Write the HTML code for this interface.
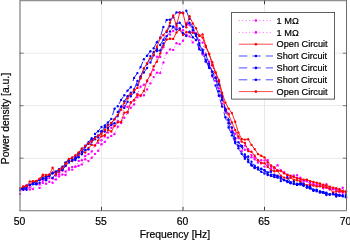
<!DOCTYPE html><html><head><meta charset="utf-8"><title>Power density</title><style>html,body{margin:0;padding:0;background:#fff}svg{display:block}text{font-family:"Liberation Sans",sans-serif;fill:#000;stroke:#000;stroke-width:0.2px}</style></head><body>
<svg width="350" height="240" viewBox="0 0 350 240">
<rect width="350" height="240" fill="#fff"/>
<path d="M101.5 0.5V210.5M183 0.5V210.5M264.5 0.5V210.5" stroke="#e9e9e9" stroke-width="1" fill="none"/>
<path d="M20 53.25H346M20 105.5H346M20 158.25H346" stroke="#e6e6e6" stroke-width="0.8" fill="none"/>
<defs><clipPath id="c"><rect x="19" y="0" width="329" height="211"/></clipPath></defs>
<g clip-path="url(#c)">
<polyline points="20.0,194.0 23.3,189.7 26.5,189.0 29.8,187.4 33.0,189.1 36.3,182.9 39.6,187.9 42.8,183.0 46.1,183.7 49.3,181.8 52.6,182.8 55.9,175.5 59.1,176.4 62.4,174.5 65.6,175.0 68.9,169.7 72.2,169.6 75.4,166.6 78.7,165.8 81.9,164.4 85.2,159.3 88.5,161.1 91.7,157.7 95.0,153.9 98.2,150.8 101.5,144.2 104.8,141.9 108.0,137.6 111.3,135.9 114.5,134.0 117.8,126.7 121.1,123.0 124.3,117.8 127.6,112.9 130.8,107.7 134.1,104.5 137.4,97.2 140.6,96.0 143.9,95.3 147.1,89.4 150.4,83.4 153.7,77.1 156.9,72.7 160.2,73.1 163.4,62.6 166.7,53.0 170.0,49.4 173.2,49.9 176.5,43.3 179.7,44.1 183.0,40.8 186.3,34.4 189.5,36.4 192.8,42.4 196.0,40.0 199.3,47.7 202.6,54.5 205.8,61.6 209.1,67.3 212.3,76.3 215.6,80.6 218.9,95.6 222.1,103.6 225.4,111.4 228.6,122.8 231.9,130.5 235.2,140.0 238.4,146.1 241.7,150.9 244.9,145.6 248.2,149.1 251.5,155.1 254.7,159.2 258.0,162.5 261.2,163.4 264.5,160.4 267.8,164.7 271.0,167.9 274.3,168.2 277.5,170.8 280.8,170.7 284.1,172.4 287.3,174.6 290.6,176.1 293.8,176.8 297.1,177.8 300.4,177.7 303.6,180.4 306.9,181.2 310.1,183.9 313.4,185.1 316.7,184.6 319.9,184.9 323.2,185.4 326.4,187.9 329.7,188.2 333.0,188.5 336.2,189.9 339.5,189.8 342.7,192.7 346.0,191.8" fill="none" stroke="#ff00ff" stroke-width="0.85" stroke-dasharray="0.9 2.55" stroke-linejoin="round"/>
<g fill="#ff00ff"><circle cx="20.0" cy="194.0" r="1.18"/><circle cx="23.3" cy="189.7" r="1.18"/><circle cx="26.5" cy="189.0" r="1.18"/><circle cx="29.8" cy="187.4" r="1.18"/><circle cx="33.0" cy="189.1" r="1.18"/><circle cx="36.3" cy="182.9" r="1.18"/><circle cx="39.6" cy="187.9" r="1.18"/><circle cx="42.8" cy="183.0" r="1.18"/><circle cx="46.1" cy="183.7" r="1.18"/><circle cx="49.3" cy="181.8" r="1.18"/><circle cx="52.6" cy="182.8" r="1.18"/><circle cx="55.9" cy="175.5" r="1.18"/><circle cx="59.1" cy="176.4" r="1.18"/><circle cx="62.4" cy="174.5" r="1.18"/><circle cx="65.6" cy="175.0" r="1.18"/><circle cx="68.9" cy="169.7" r="1.18"/><circle cx="72.2" cy="169.6" r="1.18"/><circle cx="75.4" cy="166.6" r="1.18"/><circle cx="78.7" cy="165.8" r="1.18"/><circle cx="81.9" cy="164.4" r="1.18"/><circle cx="85.2" cy="159.3" r="1.18"/><circle cx="88.5" cy="161.1" r="1.18"/><circle cx="91.7" cy="157.7" r="1.18"/><circle cx="95.0" cy="153.9" r="1.18"/><circle cx="98.2" cy="150.8" r="1.18"/><circle cx="101.5" cy="144.2" r="1.18"/><circle cx="104.8" cy="141.9" r="1.18"/><circle cx="108.0" cy="137.6" r="1.18"/><circle cx="111.3" cy="135.9" r="1.18"/><circle cx="114.5" cy="134.0" r="1.18"/><circle cx="117.8" cy="126.7" r="1.18"/><circle cx="121.1" cy="123.0" r="1.18"/><circle cx="124.3" cy="117.8" r="1.18"/><circle cx="127.6" cy="112.9" r="1.18"/><circle cx="130.8" cy="107.7" r="1.18"/><circle cx="134.1" cy="104.5" r="1.18"/><circle cx="137.4" cy="97.2" r="1.18"/><circle cx="140.6" cy="96.0" r="1.18"/><circle cx="143.9" cy="95.3" r="1.18"/><circle cx="147.1" cy="89.4" r="1.18"/><circle cx="150.4" cy="83.4" r="1.18"/><circle cx="153.7" cy="77.1" r="1.18"/><circle cx="156.9" cy="72.7" r="1.18"/><circle cx="160.2" cy="73.1" r="1.18"/><circle cx="163.4" cy="62.6" r="1.18"/><circle cx="166.7" cy="53.0" r="1.18"/><circle cx="170.0" cy="49.4" r="1.18"/><circle cx="173.2" cy="49.9" r="1.18"/><circle cx="176.5" cy="43.3" r="1.18"/><circle cx="179.7" cy="44.1" r="1.18"/><circle cx="183.0" cy="40.8" r="1.18"/><circle cx="186.3" cy="34.4" r="1.18"/><circle cx="189.5" cy="36.4" r="1.18"/><circle cx="192.8" cy="42.4" r="1.18"/><circle cx="196.0" cy="40.0" r="1.18"/><circle cx="199.3" cy="47.7" r="1.18"/><circle cx="202.6" cy="54.5" r="1.18"/><circle cx="205.8" cy="61.6" r="1.18"/><circle cx="209.1" cy="67.3" r="1.18"/><circle cx="212.3" cy="76.3" r="1.18"/><circle cx="215.6" cy="80.6" r="1.18"/><circle cx="218.9" cy="95.6" r="1.18"/><circle cx="222.1" cy="103.6" r="1.18"/><circle cx="225.4" cy="111.4" r="1.18"/><circle cx="228.6" cy="122.8" r="1.18"/><circle cx="231.9" cy="130.5" r="1.18"/><circle cx="235.2" cy="140.0" r="1.18"/><circle cx="238.4" cy="146.1" r="1.18"/><circle cx="241.7" cy="150.9" r="1.18"/><circle cx="244.9" cy="145.6" r="1.18"/><circle cx="248.2" cy="149.1" r="1.18"/><circle cx="251.5" cy="155.1" r="1.18"/><circle cx="254.7" cy="159.2" r="1.18"/><circle cx="258.0" cy="162.5" r="1.18"/><circle cx="261.2" cy="163.4" r="1.18"/><circle cx="264.5" cy="160.4" r="1.18"/><circle cx="267.8" cy="164.7" r="1.18"/><circle cx="271.0" cy="167.9" r="1.18"/><circle cx="274.3" cy="168.2" r="1.18"/><circle cx="277.5" cy="170.8" r="1.18"/><circle cx="280.8" cy="170.7" r="1.18"/><circle cx="284.1" cy="172.4" r="1.18"/><circle cx="287.3" cy="174.6" r="1.18"/><circle cx="290.6" cy="176.1" r="1.18"/><circle cx="293.8" cy="176.8" r="1.18"/><circle cx="297.1" cy="177.8" r="1.18"/><circle cx="300.4" cy="177.7" r="1.18"/><circle cx="303.6" cy="180.4" r="1.18"/><circle cx="306.9" cy="181.2" r="1.18"/><circle cx="310.1" cy="183.9" r="1.18"/><circle cx="313.4" cy="185.1" r="1.18"/><circle cx="316.7" cy="184.6" r="1.18"/><circle cx="319.9" cy="184.9" r="1.18"/><circle cx="323.2" cy="185.4" r="1.18"/><circle cx="326.4" cy="187.9" r="1.18"/><circle cx="329.7" cy="188.2" r="1.18"/><circle cx="333.0" cy="188.5" r="1.18"/><circle cx="336.2" cy="189.9" r="1.18"/><circle cx="339.5" cy="189.8" r="1.18"/><circle cx="342.7" cy="192.7" r="1.18"/><circle cx="346.0" cy="191.8" r="1.18"/></g>
<polyline points="20.0,189.6 23.3,189.3 26.5,185.1 29.8,189.6 33.0,183.0 36.3,183.3 39.6,184.4 42.8,180.7 46.1,179.7 49.3,178.1 52.6,178.6 55.9,179.5 59.1,174.2 62.4,170.5 65.6,171.5 68.9,168.1 72.2,166.9 75.4,166.6 78.7,160.9 81.9,160.2 85.2,155.9 88.5,154.1 91.7,151.5 95.0,145.4 98.2,142.9 101.5,140.2 104.8,136.6 108.0,132.6 111.3,127.8 114.5,125.6 117.8,120.9 121.1,122.4 124.3,106.1 127.6,106.9 130.8,102.8 134.1,100.6 137.4,94.0 140.6,86.7 143.9,84.7 147.1,81.3 150.4,73.9 153.7,70.0 156.9,56.7 160.2,56.9 163.4,47.3 166.7,36.1 170.0,34.4 173.2,31.0 176.5,27.5 179.7,28.9 183.0,30.2 186.3,22.9 189.5,25.1 192.8,31.2 196.0,33.1 199.3,40.1 202.6,42.6 205.8,54.0 209.1,61.7 212.3,65.4 215.6,77.3 218.9,88.4 222.1,98.8 225.4,109.7 228.6,113.8 231.9,128.0 235.2,133.7 238.4,138.0 241.7,145.9 244.9,149.7 248.2,149.9 251.5,157.2 254.7,157.6 258.0,160.4 261.2,160.3 264.5,166.6 267.8,160.1 271.0,165.9 274.3,168.5 277.5,165.2 280.8,170.2 284.1,172.1 287.3,175.3 290.6,177.3 293.8,175.5 297.1,175.1 300.4,180.5 303.6,181.4 306.9,179.9 310.1,182.3 313.4,183.5 316.7,184.9 319.9,185.4 323.2,188.3 326.4,184.3 329.7,189.5 333.0,189.3 336.2,189.3 339.5,192.3 342.7,187.7 346.0,194.0" fill="none" stroke="#ff00ff" stroke-width="0.85" stroke-dasharray="0.9 2.55" stroke-linejoin="round"/>
<g fill="#ff00ff"><circle cx="20.0" cy="189.6" r="1.18"/><circle cx="23.3" cy="189.3" r="1.18"/><circle cx="26.5" cy="185.1" r="1.18"/><circle cx="29.8" cy="189.6" r="1.18"/><circle cx="33.0" cy="183.0" r="1.18"/><circle cx="36.3" cy="183.3" r="1.18"/><circle cx="39.6" cy="184.4" r="1.18"/><circle cx="42.8" cy="180.7" r="1.18"/><circle cx="46.1" cy="179.7" r="1.18"/><circle cx="49.3" cy="178.1" r="1.18"/><circle cx="52.6" cy="178.6" r="1.18"/><circle cx="55.9" cy="179.5" r="1.18"/><circle cx="59.1" cy="174.2" r="1.18"/><circle cx="62.4" cy="170.5" r="1.18"/><circle cx="65.6" cy="171.5" r="1.18"/><circle cx="68.9" cy="168.1" r="1.18"/><circle cx="72.2" cy="166.9" r="1.18"/><circle cx="75.4" cy="166.6" r="1.18"/><circle cx="78.7" cy="160.9" r="1.18"/><circle cx="81.9" cy="160.2" r="1.18"/><circle cx="85.2" cy="155.9" r="1.18"/><circle cx="88.5" cy="154.1" r="1.18"/><circle cx="91.7" cy="151.5" r="1.18"/><circle cx="95.0" cy="145.4" r="1.18"/><circle cx="98.2" cy="142.9" r="1.18"/><circle cx="101.5" cy="140.2" r="1.18"/><circle cx="104.8" cy="136.6" r="1.18"/><circle cx="108.0" cy="132.6" r="1.18"/><circle cx="111.3" cy="127.8" r="1.18"/><circle cx="114.5" cy="125.6" r="1.18"/><circle cx="117.8" cy="120.9" r="1.18"/><circle cx="121.1" cy="122.4" r="1.18"/><circle cx="124.3" cy="106.1" r="1.18"/><circle cx="127.6" cy="106.9" r="1.18"/><circle cx="130.8" cy="102.8" r="1.18"/><circle cx="134.1" cy="100.6" r="1.18"/><circle cx="137.4" cy="94.0" r="1.18"/><circle cx="140.6" cy="86.7" r="1.18"/><circle cx="143.9" cy="84.7" r="1.18"/><circle cx="147.1" cy="81.3" r="1.18"/><circle cx="150.4" cy="73.9" r="1.18"/><circle cx="153.7" cy="70.0" r="1.18"/><circle cx="156.9" cy="56.7" r="1.18"/><circle cx="160.2" cy="56.9" r="1.18"/><circle cx="163.4" cy="47.3" r="1.18"/><circle cx="166.7" cy="36.1" r="1.18"/><circle cx="170.0" cy="34.4" r="1.18"/><circle cx="173.2" cy="31.0" r="1.18"/><circle cx="176.5" cy="27.5" r="1.18"/><circle cx="179.7" cy="28.9" r="1.18"/><circle cx="183.0" cy="30.2" r="1.18"/><circle cx="186.3" cy="22.9" r="1.18"/><circle cx="189.5" cy="25.1" r="1.18"/><circle cx="192.8" cy="31.2" r="1.18"/><circle cx="196.0" cy="33.1" r="1.18"/><circle cx="199.3" cy="40.1" r="1.18"/><circle cx="202.6" cy="42.6" r="1.18"/><circle cx="205.8" cy="54.0" r="1.18"/><circle cx="209.1" cy="61.7" r="1.18"/><circle cx="212.3" cy="65.4" r="1.18"/><circle cx="215.6" cy="77.3" r="1.18"/><circle cx="218.9" cy="88.4" r="1.18"/><circle cx="222.1" cy="98.8" r="1.18"/><circle cx="225.4" cy="109.7" r="1.18"/><circle cx="228.6" cy="113.8" r="1.18"/><circle cx="231.9" cy="128.0" r="1.18"/><circle cx="235.2" cy="133.7" r="1.18"/><circle cx="238.4" cy="138.0" r="1.18"/><circle cx="241.7" cy="145.9" r="1.18"/><circle cx="244.9" cy="149.7" r="1.18"/><circle cx="248.2" cy="149.9" r="1.18"/><circle cx="251.5" cy="157.2" r="1.18"/><circle cx="254.7" cy="157.6" r="1.18"/><circle cx="258.0" cy="160.4" r="1.18"/><circle cx="261.2" cy="160.3" r="1.18"/><circle cx="264.5" cy="166.6" r="1.18"/><circle cx="267.8" cy="160.1" r="1.18"/><circle cx="271.0" cy="165.9" r="1.18"/><circle cx="274.3" cy="168.5" r="1.18"/><circle cx="277.5" cy="165.2" r="1.18"/><circle cx="280.8" cy="170.2" r="1.18"/><circle cx="284.1" cy="172.1" r="1.18"/><circle cx="287.3" cy="175.3" r="1.18"/><circle cx="290.6" cy="177.3" r="1.18"/><circle cx="293.8" cy="175.5" r="1.18"/><circle cx="297.1" cy="175.1" r="1.18"/><circle cx="300.4" cy="180.5" r="1.18"/><circle cx="303.6" cy="181.4" r="1.18"/><circle cx="306.9" cy="179.9" r="1.18"/><circle cx="310.1" cy="182.3" r="1.18"/><circle cx="313.4" cy="183.5" r="1.18"/><circle cx="316.7" cy="184.9" r="1.18"/><circle cx="319.9" cy="185.4" r="1.18"/><circle cx="323.2" cy="188.3" r="1.18"/><circle cx="326.4" cy="184.3" r="1.18"/><circle cx="329.7" cy="189.5" r="1.18"/><circle cx="333.0" cy="189.3" r="1.18"/><circle cx="336.2" cy="189.3" r="1.18"/><circle cx="339.5" cy="192.3" r="1.18"/><circle cx="342.7" cy="187.7" r="1.18"/><circle cx="346.0" cy="194.0" r="1.18"/></g>
<polyline points="20.0,190.2 23.3,186.8 26.5,186.0 29.8,184.8 33.0,181.9 36.3,181.3 39.6,179.7 42.8,175.8 46.1,177.3 49.3,175.4 52.6,172.6 55.9,172.2 59.1,171.8 62.4,168.9 65.6,166.0 68.9,161.5 72.2,161.1 75.4,158.3 78.7,156.1 81.9,151.1 85.2,152.6 88.5,148.0 91.7,144.7 95.0,145.5 98.2,140.4 101.5,136.3 104.8,135.3 108.0,130.0 111.3,131.5 114.5,126.1 117.8,122.3 121.1,121.9 124.3,112.8 127.6,111.9 130.8,102.2 134.1,100.0 137.4,94.7 140.6,95.5 143.9,90.9 147.1,80.5 150.4,75.1 153.7,66.3 156.9,61.7 160.2,53.4 163.4,45.4 166.7,39.5 170.0,38.8 173.2,38.9 176.5,32.5 179.7,29.9 183.0,34.9 186.3,31.9 189.5,32.5 192.8,32.8 196.0,33.6 199.3,35.4 202.6,37.6 205.8,47.0 209.1,53.6 212.3,65.0 215.6,72.8 218.9,81.2 222.1,95.7 225.4,108.9 228.6,114.4 231.9,122.4 235.2,130.1 238.4,136.5 241.7,141.6 244.9,142.9 248.2,151.1 251.5,151.7 254.7,155.8 258.0,160.3 261.2,162.9 264.5,163.3 267.8,166.9 271.0,170.2 274.3,171.2 277.5,170.9 280.8,175.8 284.1,177.6 287.3,178.3 290.6,177.7 293.8,179.7 297.1,180.2 300.4,181.5 303.6,184.1 306.9,185.2 310.1,184.9 313.4,185.5 316.7,186.4 319.9,186.3 323.2,187.1 326.4,187.2 329.7,188.8 333.0,192.4 336.2,191.6 339.5,191.1 342.7,191.7 346.0,191.8" fill="none" stroke="#ff0000" stroke-width="0.85" stroke-linejoin="round"/>
<g fill="#ff0000"><circle cx="20.0" cy="190.2" r="1.18"/><circle cx="23.3" cy="186.8" r="1.18"/><circle cx="26.5" cy="186.0" r="1.18"/><circle cx="29.8" cy="184.8" r="1.18"/><circle cx="33.0" cy="181.9" r="1.18"/><circle cx="36.3" cy="181.3" r="1.18"/><circle cx="39.6" cy="179.7" r="1.18"/><circle cx="42.8" cy="175.8" r="1.18"/><circle cx="46.1" cy="177.3" r="1.18"/><circle cx="49.3" cy="175.4" r="1.18"/><circle cx="52.6" cy="172.6" r="1.18"/><circle cx="55.9" cy="172.2" r="1.18"/><circle cx="59.1" cy="171.8" r="1.18"/><circle cx="62.4" cy="168.9" r="1.18"/><circle cx="65.6" cy="166.0" r="1.18"/><circle cx="68.9" cy="161.5" r="1.18"/><circle cx="72.2" cy="161.1" r="1.18"/><circle cx="75.4" cy="158.3" r="1.18"/><circle cx="78.7" cy="156.1" r="1.18"/><circle cx="81.9" cy="151.1" r="1.18"/><circle cx="85.2" cy="152.6" r="1.18"/><circle cx="88.5" cy="148.0" r="1.18"/><circle cx="91.7" cy="144.7" r="1.18"/><circle cx="95.0" cy="145.5" r="1.18"/><circle cx="98.2" cy="140.4" r="1.18"/><circle cx="101.5" cy="136.3" r="1.18"/><circle cx="104.8" cy="135.3" r="1.18"/><circle cx="108.0" cy="130.0" r="1.18"/><circle cx="111.3" cy="131.5" r="1.18"/><circle cx="114.5" cy="126.1" r="1.18"/><circle cx="117.8" cy="122.3" r="1.18"/><circle cx="121.1" cy="121.9" r="1.18"/><circle cx="124.3" cy="112.8" r="1.18"/><circle cx="127.6" cy="111.9" r="1.18"/><circle cx="130.8" cy="102.2" r="1.18"/><circle cx="134.1" cy="100.0" r="1.18"/><circle cx="137.4" cy="94.7" r="1.18"/><circle cx="140.6" cy="95.5" r="1.18"/><circle cx="143.9" cy="90.9" r="1.18"/><circle cx="147.1" cy="80.5" r="1.18"/><circle cx="150.4" cy="75.1" r="1.18"/><circle cx="153.7" cy="66.3" r="1.18"/><circle cx="156.9" cy="61.7" r="1.18"/><circle cx="160.2" cy="53.4" r="1.18"/><circle cx="163.4" cy="45.4" r="1.18"/><circle cx="166.7" cy="39.5" r="1.18"/><circle cx="170.0" cy="38.8" r="1.18"/><circle cx="173.2" cy="38.9" r="1.18"/><circle cx="176.5" cy="32.5" r="1.18"/><circle cx="179.7" cy="29.9" r="1.18"/><circle cx="183.0" cy="34.9" r="1.18"/><circle cx="186.3" cy="31.9" r="1.18"/><circle cx="189.5" cy="32.5" r="1.18"/><circle cx="192.8" cy="32.8" r="1.18"/><circle cx="196.0" cy="33.6" r="1.18"/><circle cx="199.3" cy="35.4" r="1.18"/><circle cx="202.6" cy="37.6" r="1.18"/><circle cx="205.8" cy="47.0" r="1.18"/><circle cx="209.1" cy="53.6" r="1.18"/><circle cx="212.3" cy="65.0" r="1.18"/><circle cx="215.6" cy="72.8" r="1.18"/><circle cx="218.9" cy="81.2" r="1.18"/><circle cx="222.1" cy="95.7" r="1.18"/><circle cx="225.4" cy="108.9" r="1.18"/><circle cx="228.6" cy="114.4" r="1.18"/><circle cx="231.9" cy="122.4" r="1.18"/><circle cx="235.2" cy="130.1" r="1.18"/><circle cx="238.4" cy="136.5" r="1.18"/><circle cx="241.7" cy="141.6" r="1.18"/><circle cx="244.9" cy="142.9" r="1.18"/><circle cx="248.2" cy="151.1" r="1.18"/><circle cx="251.5" cy="151.7" r="1.18"/><circle cx="254.7" cy="155.8" r="1.18"/><circle cx="258.0" cy="160.3" r="1.18"/><circle cx="261.2" cy="162.9" r="1.18"/><circle cx="264.5" cy="163.3" r="1.18"/><circle cx="267.8" cy="166.9" r="1.18"/><circle cx="271.0" cy="170.2" r="1.18"/><circle cx="274.3" cy="171.2" r="1.18"/><circle cx="277.5" cy="170.9" r="1.18"/><circle cx="280.8" cy="175.8" r="1.18"/><circle cx="284.1" cy="177.6" r="1.18"/><circle cx="287.3" cy="178.3" r="1.18"/><circle cx="290.6" cy="177.7" r="1.18"/><circle cx="293.8" cy="179.7" r="1.18"/><circle cx="297.1" cy="180.2" r="1.18"/><circle cx="300.4" cy="181.5" r="1.18"/><circle cx="303.6" cy="184.1" r="1.18"/><circle cx="306.9" cy="185.2" r="1.18"/><circle cx="310.1" cy="184.9" r="1.18"/><circle cx="313.4" cy="185.5" r="1.18"/><circle cx="316.7" cy="186.4" r="1.18"/><circle cx="319.9" cy="186.3" r="1.18"/><circle cx="323.2" cy="187.1" r="1.18"/><circle cx="326.4" cy="187.2" r="1.18"/><circle cx="329.7" cy="188.8" r="1.18"/><circle cx="333.0" cy="192.4" r="1.18"/><circle cx="336.2" cy="191.6" r="1.18"/><circle cx="339.5" cy="191.1" r="1.18"/><circle cx="342.7" cy="191.7" r="1.18"/><circle cx="346.0" cy="191.8" r="1.18"/></g>
<polyline points="20.0,189.0 23.3,187.8 26.5,186.0 29.8,185.0 33.0,183.4 36.3,181.4 39.6,180.1 42.8,178.7 46.1,177.0 49.3,174.8 52.6,173.5 55.9,171.4 59.1,169.1 62.4,166.6 65.6,162.6 68.9,159.5 72.2,157.7 75.4,156.7 78.7,153.2 81.9,148.6 85.2,145.7 88.5,142.1 91.7,138.2 95.0,134.0 98.2,131.2 101.5,127.0 104.8,125.5 108.0,122.4 111.3,118.9 114.5,108.8 117.8,106.2 121.1,99.9 124.3,95.3 127.6,90.6 130.8,87.3 134.1,77.9 137.4,73.1 140.6,67.1 143.9,59.2 147.1,55.7 150.4,51.2 153.7,48.2 156.9,42.2 160.2,37.4 163.4,26.9 166.7,19.9 170.0,19.7 173.2,17.2 176.5,12.4 179.7,12.4 183.0,12.6 186.3,10.8 189.5,18.9 192.8,27.4 196.0,34.3 199.3,43.2 202.6,50.9 205.8,60.0 209.1,67.9 212.3,75.4 215.6,85.5 218.9,95.7 222.1,106.5 225.4,117.3 228.6,127.5 231.9,135.4 235.2,143.0 238.4,148.2 241.7,153.7 244.9,158.8 248.2,162.0 251.5,164.5 254.7,167.7 258.0,169.4 261.2,171.7 264.5,173.5 267.8,174.5 271.0,175.9 274.3,177.0 277.5,177.6 280.8,178.7 284.1,180.1 287.3,180.9 290.6,182.7 293.8,183.2 297.1,184.7 300.4,184.6 303.6,185.7 306.9,187.6 310.1,188.6 313.4,189.9 316.7,191.2 319.9,192.5 323.2,192.9 326.4,193.7 329.7,194.1 333.0,194.3 336.2,194.8 339.5,195.1 342.7,195.9 346.0,196.5" fill="none" stroke="#0000ff" stroke-width="0.85" stroke-dasharray="8.5 5" stroke-linejoin="round"/>
<g fill="#0000ff"><circle cx="20.0" cy="189.0" r="1.18"/><circle cx="23.3" cy="187.8" r="1.18"/><circle cx="26.5" cy="186.0" r="1.18"/><circle cx="29.8" cy="185.0" r="1.18"/><circle cx="33.0" cy="183.4" r="1.18"/><circle cx="36.3" cy="181.4" r="1.18"/><circle cx="39.6" cy="180.1" r="1.18"/><circle cx="42.8" cy="178.7" r="1.18"/><circle cx="46.1" cy="177.0" r="1.18"/><circle cx="49.3" cy="174.8" r="1.18"/><circle cx="52.6" cy="173.5" r="1.18"/><circle cx="55.9" cy="171.4" r="1.18"/><circle cx="59.1" cy="169.1" r="1.18"/><circle cx="62.4" cy="166.6" r="1.18"/><circle cx="65.6" cy="162.6" r="1.18"/><circle cx="68.9" cy="159.5" r="1.18"/><circle cx="72.2" cy="157.7" r="1.18"/><circle cx="75.4" cy="156.7" r="1.18"/><circle cx="78.7" cy="153.2" r="1.18"/><circle cx="81.9" cy="148.6" r="1.18"/><circle cx="85.2" cy="145.7" r="1.18"/><circle cx="88.5" cy="142.1" r="1.18"/><circle cx="91.7" cy="138.2" r="1.18"/><circle cx="95.0" cy="134.0" r="1.18"/><circle cx="98.2" cy="131.2" r="1.18"/><circle cx="101.5" cy="127.0" r="1.18"/><circle cx="104.8" cy="125.5" r="1.18"/><circle cx="108.0" cy="122.4" r="1.18"/><circle cx="111.3" cy="118.9" r="1.18"/><circle cx="114.5" cy="108.8" r="1.18"/><circle cx="117.8" cy="106.2" r="1.18"/><circle cx="121.1" cy="99.9" r="1.18"/><circle cx="124.3" cy="95.3" r="1.18"/><circle cx="127.6" cy="90.6" r="1.18"/><circle cx="130.8" cy="87.3" r="1.18"/><circle cx="134.1" cy="77.9" r="1.18"/><circle cx="137.4" cy="73.1" r="1.18"/><circle cx="140.6" cy="67.1" r="1.18"/><circle cx="143.9" cy="59.2" r="1.18"/><circle cx="147.1" cy="55.7" r="1.18"/><circle cx="150.4" cy="51.2" r="1.18"/><circle cx="153.7" cy="48.2" r="1.18"/><circle cx="156.9" cy="42.2" r="1.18"/><circle cx="160.2" cy="37.4" r="1.18"/><circle cx="163.4" cy="26.9" r="1.18"/><circle cx="166.7" cy="19.9" r="1.18"/><circle cx="170.0" cy="19.7" r="1.18"/><circle cx="173.2" cy="17.2" r="1.18"/><circle cx="176.5" cy="12.4" r="1.18"/><circle cx="179.7" cy="12.4" r="1.18"/><circle cx="183.0" cy="12.6" r="1.18"/><circle cx="186.3" cy="10.8" r="1.18"/><circle cx="189.5" cy="18.9" r="1.18"/><circle cx="192.8" cy="27.4" r="1.18"/><circle cx="196.0" cy="34.3" r="1.18"/><circle cx="199.3" cy="43.2" r="1.18"/><circle cx="202.6" cy="50.9" r="1.18"/><circle cx="205.8" cy="60.0" r="1.18"/><circle cx="209.1" cy="67.9" r="1.18"/><circle cx="212.3" cy="75.4" r="1.18"/><circle cx="215.6" cy="85.5" r="1.18"/><circle cx="218.9" cy="95.7" r="1.18"/><circle cx="222.1" cy="106.5" r="1.18"/><circle cx="225.4" cy="117.3" r="1.18"/><circle cx="228.6" cy="127.5" r="1.18"/><circle cx="231.9" cy="135.4" r="1.18"/><circle cx="235.2" cy="143.0" r="1.18"/><circle cx="238.4" cy="148.2" r="1.18"/><circle cx="241.7" cy="153.7" r="1.18"/><circle cx="244.9" cy="158.8" r="1.18"/><circle cx="248.2" cy="162.0" r="1.18"/><circle cx="251.5" cy="164.5" r="1.18"/><circle cx="254.7" cy="167.7" r="1.18"/><circle cx="258.0" cy="169.4" r="1.18"/><circle cx="261.2" cy="171.7" r="1.18"/><circle cx="264.5" cy="173.5" r="1.18"/><circle cx="267.8" cy="174.5" r="1.18"/><circle cx="271.0" cy="175.9" r="1.18"/><circle cx="274.3" cy="177.0" r="1.18"/><circle cx="277.5" cy="177.6" r="1.18"/><circle cx="280.8" cy="178.7" r="1.18"/><circle cx="284.1" cy="180.1" r="1.18"/><circle cx="287.3" cy="180.9" r="1.18"/><circle cx="290.6" cy="182.7" r="1.18"/><circle cx="293.8" cy="183.2" r="1.18"/><circle cx="297.1" cy="184.7" r="1.18"/><circle cx="300.4" cy="184.6" r="1.18"/><circle cx="303.6" cy="185.7" r="1.18"/><circle cx="306.9" cy="187.6" r="1.18"/><circle cx="310.1" cy="188.6" r="1.18"/><circle cx="313.4" cy="189.9" r="1.18"/><circle cx="316.7" cy="191.2" r="1.18"/><circle cx="319.9" cy="192.5" r="1.18"/><circle cx="323.2" cy="192.9" r="1.18"/><circle cx="326.4" cy="193.7" r="1.18"/><circle cx="329.7" cy="194.1" r="1.18"/><circle cx="333.0" cy="194.3" r="1.18"/><circle cx="336.2" cy="194.8" r="1.18"/><circle cx="339.5" cy="195.1" r="1.18"/><circle cx="342.7" cy="195.9" r="1.18"/><circle cx="346.0" cy="196.5" r="1.18"/></g>
<polyline points="20.0,190.0 23.3,187.8 26.5,189.7 29.8,185.1 33.0,184.2 36.3,184.3 39.6,179.8 42.8,178.6 46.1,177.9 49.3,175.5 52.6,172.8 55.9,172.1 59.1,169.7 62.4,168.5 65.6,162.6 68.9,160.3 72.2,160.4 75.4,160.0 78.7,153.1 81.9,152.1 85.2,146.7 88.5,143.9 91.7,140.2 95.0,137.1 98.2,135.4 101.5,131.5 104.8,127.3 108.0,124.9 111.3,123.3 114.5,119.1 117.8,112.0 121.1,106.4 124.3,101.2 127.6,96.3 130.8,92.7 134.1,89.5 137.4,80.9 140.6,76.4 143.9,68.5 147.1,64.1 150.4,56.1 153.7,52.0 156.9,49.3 160.2,45.0 163.4,39.7 166.7,32.0 170.0,26.0 173.2,26.6 176.5,23.7 179.7,22.8 183.0,26.8 186.3,24.7 189.5,22.8 192.8,29.9 196.0,35.9 199.3,45.2 202.6,49.6 205.8,61.4 209.1,65.6 212.3,72.0 215.6,78.1 218.9,91.3 222.1,100.0 225.4,110.2 228.6,123.3 231.9,132.2 235.2,141.8 238.4,145.7 241.7,146.5 244.9,157.3 248.2,156.5 251.5,165.6 254.7,168.1 258.0,167.5 261.2,168.7 264.5,170.5 267.8,175.0 271.0,174.6 274.3,175.1 277.5,176.7 280.8,181.1 284.1,180.1 287.3,182.0 290.6,183.3 293.8,184.1 297.1,184.9 300.4,183.5 303.6,185.4 306.9,186.1 310.1,187.4 313.4,190.9 316.7,190.3 319.9,192.1 323.2,191.9 326.4,192.6 329.7,194.7 333.0,193.8 336.2,194.2 339.5,195.9 342.7,196.4 346.0,197.3" fill="none" stroke="#0000ff" stroke-width="0.85" stroke-dasharray="8.5 5" stroke-linejoin="round"/>
<g fill="#0000ff"><circle cx="20.0" cy="190.0" r="1.18"/><circle cx="23.3" cy="187.8" r="1.18"/><circle cx="26.5" cy="189.7" r="1.18"/><circle cx="29.8" cy="185.1" r="1.18"/><circle cx="33.0" cy="184.2" r="1.18"/><circle cx="36.3" cy="184.3" r="1.18"/><circle cx="39.6" cy="179.8" r="1.18"/><circle cx="42.8" cy="178.6" r="1.18"/><circle cx="46.1" cy="177.9" r="1.18"/><circle cx="49.3" cy="175.5" r="1.18"/><circle cx="52.6" cy="172.8" r="1.18"/><circle cx="55.9" cy="172.1" r="1.18"/><circle cx="59.1" cy="169.7" r="1.18"/><circle cx="62.4" cy="168.5" r="1.18"/><circle cx="65.6" cy="162.6" r="1.18"/><circle cx="68.9" cy="160.3" r="1.18"/><circle cx="72.2" cy="160.4" r="1.18"/><circle cx="75.4" cy="160.0" r="1.18"/><circle cx="78.7" cy="153.1" r="1.18"/><circle cx="81.9" cy="152.1" r="1.18"/><circle cx="85.2" cy="146.7" r="1.18"/><circle cx="88.5" cy="143.9" r="1.18"/><circle cx="91.7" cy="140.2" r="1.18"/><circle cx="95.0" cy="137.1" r="1.18"/><circle cx="98.2" cy="135.4" r="1.18"/><circle cx="101.5" cy="131.5" r="1.18"/><circle cx="104.8" cy="127.3" r="1.18"/><circle cx="108.0" cy="124.9" r="1.18"/><circle cx="111.3" cy="123.3" r="1.18"/><circle cx="114.5" cy="119.1" r="1.18"/><circle cx="117.8" cy="112.0" r="1.18"/><circle cx="121.1" cy="106.4" r="1.18"/><circle cx="124.3" cy="101.2" r="1.18"/><circle cx="127.6" cy="96.3" r="1.18"/><circle cx="130.8" cy="92.7" r="1.18"/><circle cx="134.1" cy="89.5" r="1.18"/><circle cx="137.4" cy="80.9" r="1.18"/><circle cx="140.6" cy="76.4" r="1.18"/><circle cx="143.9" cy="68.5" r="1.18"/><circle cx="147.1" cy="64.1" r="1.18"/><circle cx="150.4" cy="56.1" r="1.18"/><circle cx="153.7" cy="52.0" r="1.18"/><circle cx="156.9" cy="49.3" r="1.18"/><circle cx="160.2" cy="45.0" r="1.18"/><circle cx="163.4" cy="39.7" r="1.18"/><circle cx="166.7" cy="32.0" r="1.18"/><circle cx="170.0" cy="26.0" r="1.18"/><circle cx="173.2" cy="26.6" r="1.18"/><circle cx="176.5" cy="23.7" r="1.18"/><circle cx="179.7" cy="22.8" r="1.18"/><circle cx="183.0" cy="26.8" r="1.18"/><circle cx="186.3" cy="24.7" r="1.18"/><circle cx="189.5" cy="22.8" r="1.18"/><circle cx="192.8" cy="29.9" r="1.18"/><circle cx="196.0" cy="35.9" r="1.18"/><circle cx="199.3" cy="45.2" r="1.18"/><circle cx="202.6" cy="49.6" r="1.18"/><circle cx="205.8" cy="61.4" r="1.18"/><circle cx="209.1" cy="65.6" r="1.18"/><circle cx="212.3" cy="72.0" r="1.18"/><circle cx="215.6" cy="78.1" r="1.18"/><circle cx="218.9" cy="91.3" r="1.18"/><circle cx="222.1" cy="100.0" r="1.18"/><circle cx="225.4" cy="110.2" r="1.18"/><circle cx="228.6" cy="123.3" r="1.18"/><circle cx="231.9" cy="132.2" r="1.18"/><circle cx="235.2" cy="141.8" r="1.18"/><circle cx="238.4" cy="145.7" r="1.18"/><circle cx="241.7" cy="146.5" r="1.18"/><circle cx="244.9" cy="157.3" r="1.18"/><circle cx="248.2" cy="156.5" r="1.18"/><circle cx="251.5" cy="165.6" r="1.18"/><circle cx="254.7" cy="168.1" r="1.18"/><circle cx="258.0" cy="167.5" r="1.18"/><circle cx="261.2" cy="168.7" r="1.18"/><circle cx="264.5" cy="170.5" r="1.18"/><circle cx="267.8" cy="175.0" r="1.18"/><circle cx="271.0" cy="174.6" r="1.18"/><circle cx="274.3" cy="175.1" r="1.18"/><circle cx="277.5" cy="176.7" r="1.18"/><circle cx="280.8" cy="181.1" r="1.18"/><circle cx="284.1" cy="180.1" r="1.18"/><circle cx="287.3" cy="182.0" r="1.18"/><circle cx="290.6" cy="183.3" r="1.18"/><circle cx="293.8" cy="184.1" r="1.18"/><circle cx="297.1" cy="184.9" r="1.18"/><circle cx="300.4" cy="183.5" r="1.18"/><circle cx="303.6" cy="185.4" r="1.18"/><circle cx="306.9" cy="186.1" r="1.18"/><circle cx="310.1" cy="187.4" r="1.18"/><circle cx="313.4" cy="190.9" r="1.18"/><circle cx="316.7" cy="190.3" r="1.18"/><circle cx="319.9" cy="192.1" r="1.18"/><circle cx="323.2" cy="191.9" r="1.18"/><circle cx="326.4" cy="192.6" r="1.18"/><circle cx="329.7" cy="194.7" r="1.18"/><circle cx="333.0" cy="193.8" r="1.18"/><circle cx="336.2" cy="194.2" r="1.18"/><circle cx="339.5" cy="195.9" r="1.18"/><circle cx="342.7" cy="196.4" r="1.18"/><circle cx="346.0" cy="197.3" r="1.18"/></g>
<polyline points="20.0,189.6 23.3,189.6 26.5,187.6 29.8,184.9 33.0,181.7 36.3,184.1 39.6,182.8 42.8,178.1 46.1,180.2 49.3,176.1 52.6,177.9 55.9,173.8 59.1,170.5 62.4,170.1 65.6,165.8 68.9,162.5 72.2,160.0 75.4,158.2 78.7,157.3 81.9,154.3 85.2,149.8 88.5,149.4 91.7,141.6 95.0,139.2 98.2,137.4 101.5,131.3 104.8,131.5 108.0,127.9 111.3,124.9 114.5,123.3 117.8,115.8 121.1,107.1 124.3,107.9 127.6,101.8 130.8,96.2 134.1,92.3 137.4,84.9 140.6,77.0 143.9,72.4 147.1,68.0 150.4,62.5 153.7,55.3 156.9,51.0 160.2,50.5 163.4,43.4 166.7,36.1 170.0,31.5 173.2,27.0 176.5,29.6 179.7,28.5 183.0,33.1 186.3,36.0 189.5,31.8 192.8,37.2 196.0,40.1 199.3,49.2 202.6,52.9 205.8,55.0 209.1,63.7 212.3,71.6 215.6,77.6 218.9,84.5 222.1,96.5 225.4,109.1 228.6,119.8 231.9,127.5 235.2,138.3 238.4,142.3 241.7,146.0 244.9,154.5 248.2,159.8 251.5,161.8 254.7,165.8 258.0,168.8 261.2,169.1 264.5,170.1 267.8,172.5 271.0,171.7 274.3,174.7 277.5,175.7 280.8,177.4 284.1,180.1 287.3,177.1 290.6,182.4 293.8,181.4 297.1,183.7 300.4,183.8 303.6,183.7 306.9,187.3 310.1,186.8 313.4,189.6 316.7,189.7 319.9,191.2 323.2,192.4 326.4,195.1 329.7,194.2 333.0,193.9 336.2,196.5 339.5,195.1 342.7,195.3 346.0,195.1" fill="none" stroke="#0000ff" stroke-width="0.85" stroke-dasharray="8.5 5" stroke-linejoin="round"/>
<g fill="#0000ff"><circle cx="20.0" cy="189.6" r="1.18"/><circle cx="23.3" cy="189.6" r="1.18"/><circle cx="26.5" cy="187.6" r="1.18"/><circle cx="29.8" cy="184.9" r="1.18"/><circle cx="33.0" cy="181.7" r="1.18"/><circle cx="36.3" cy="184.1" r="1.18"/><circle cx="39.6" cy="182.8" r="1.18"/><circle cx="42.8" cy="178.1" r="1.18"/><circle cx="46.1" cy="180.2" r="1.18"/><circle cx="49.3" cy="176.1" r="1.18"/><circle cx="52.6" cy="177.9" r="1.18"/><circle cx="55.9" cy="173.8" r="1.18"/><circle cx="59.1" cy="170.5" r="1.18"/><circle cx="62.4" cy="170.1" r="1.18"/><circle cx="65.6" cy="165.8" r="1.18"/><circle cx="68.9" cy="162.5" r="1.18"/><circle cx="72.2" cy="160.0" r="1.18"/><circle cx="75.4" cy="158.2" r="1.18"/><circle cx="78.7" cy="157.3" r="1.18"/><circle cx="81.9" cy="154.3" r="1.18"/><circle cx="85.2" cy="149.8" r="1.18"/><circle cx="88.5" cy="149.4" r="1.18"/><circle cx="91.7" cy="141.6" r="1.18"/><circle cx="95.0" cy="139.2" r="1.18"/><circle cx="98.2" cy="137.4" r="1.18"/><circle cx="101.5" cy="131.3" r="1.18"/><circle cx="104.8" cy="131.5" r="1.18"/><circle cx="108.0" cy="127.9" r="1.18"/><circle cx="111.3" cy="124.9" r="1.18"/><circle cx="114.5" cy="123.3" r="1.18"/><circle cx="117.8" cy="115.8" r="1.18"/><circle cx="121.1" cy="107.1" r="1.18"/><circle cx="124.3" cy="107.9" r="1.18"/><circle cx="127.6" cy="101.8" r="1.18"/><circle cx="130.8" cy="96.2" r="1.18"/><circle cx="134.1" cy="92.3" r="1.18"/><circle cx="137.4" cy="84.9" r="1.18"/><circle cx="140.6" cy="77.0" r="1.18"/><circle cx="143.9" cy="72.4" r="1.18"/><circle cx="147.1" cy="68.0" r="1.18"/><circle cx="150.4" cy="62.5" r="1.18"/><circle cx="153.7" cy="55.3" r="1.18"/><circle cx="156.9" cy="51.0" r="1.18"/><circle cx="160.2" cy="50.5" r="1.18"/><circle cx="163.4" cy="43.4" r="1.18"/><circle cx="166.7" cy="36.1" r="1.18"/><circle cx="170.0" cy="31.5" r="1.18"/><circle cx="173.2" cy="27.0" r="1.18"/><circle cx="176.5" cy="29.6" r="1.18"/><circle cx="179.7" cy="28.5" r="1.18"/><circle cx="183.0" cy="33.1" r="1.18"/><circle cx="186.3" cy="36.0" r="1.18"/><circle cx="189.5" cy="31.8" r="1.18"/><circle cx="192.8" cy="37.2" r="1.18"/><circle cx="196.0" cy="40.1" r="1.18"/><circle cx="199.3" cy="49.2" r="1.18"/><circle cx="202.6" cy="52.9" r="1.18"/><circle cx="205.8" cy="55.0" r="1.18"/><circle cx="209.1" cy="63.7" r="1.18"/><circle cx="212.3" cy="71.6" r="1.18"/><circle cx="215.6" cy="77.6" r="1.18"/><circle cx="218.9" cy="84.5" r="1.18"/><circle cx="222.1" cy="96.5" r="1.18"/><circle cx="225.4" cy="109.1" r="1.18"/><circle cx="228.6" cy="119.8" r="1.18"/><circle cx="231.9" cy="127.5" r="1.18"/><circle cx="235.2" cy="138.3" r="1.18"/><circle cx="238.4" cy="142.3" r="1.18"/><circle cx="241.7" cy="146.0" r="1.18"/><circle cx="244.9" cy="154.5" r="1.18"/><circle cx="248.2" cy="159.8" r="1.18"/><circle cx="251.5" cy="161.8" r="1.18"/><circle cx="254.7" cy="165.8" r="1.18"/><circle cx="258.0" cy="168.8" r="1.18"/><circle cx="261.2" cy="169.1" r="1.18"/><circle cx="264.5" cy="170.1" r="1.18"/><circle cx="267.8" cy="172.5" r="1.18"/><circle cx="271.0" cy="171.7" r="1.18"/><circle cx="274.3" cy="174.7" r="1.18"/><circle cx="277.5" cy="175.7" r="1.18"/><circle cx="280.8" cy="177.4" r="1.18"/><circle cx="284.1" cy="180.1" r="1.18"/><circle cx="287.3" cy="177.1" r="1.18"/><circle cx="290.6" cy="182.4" r="1.18"/><circle cx="293.8" cy="181.4" r="1.18"/><circle cx="297.1" cy="183.7" r="1.18"/><circle cx="300.4" cy="183.8" r="1.18"/><circle cx="303.6" cy="183.7" r="1.18"/><circle cx="306.9" cy="187.3" r="1.18"/><circle cx="310.1" cy="186.8" r="1.18"/><circle cx="313.4" cy="189.6" r="1.18"/><circle cx="316.7" cy="189.7" r="1.18"/><circle cx="319.9" cy="191.2" r="1.18"/><circle cx="323.2" cy="192.4" r="1.18"/><circle cx="326.4" cy="195.1" r="1.18"/><circle cx="329.7" cy="194.2" r="1.18"/><circle cx="333.0" cy="193.9" r="1.18"/><circle cx="336.2" cy="196.5" r="1.18"/><circle cx="339.5" cy="195.1" r="1.18"/><circle cx="342.7" cy="195.3" r="1.18"/><circle cx="346.0" cy="195.1" r="1.18"/></g>
<polyline points="20.0,188.1 23.3,186.5 26.5,186.0 29.8,181.5 33.0,181.3 36.3,181.0 39.6,178.8 42.8,174.8 46.1,175.0 49.3,174.6 52.6,167.8 55.9,174.6 59.1,169.6 62.4,168.0 65.6,163.5 68.9,158.9 72.2,157.8 75.4,155.2 78.7,152.4 81.9,148.7 85.2,146.1 88.5,143.4 91.7,141.2 95.0,138.4 98.2,135.7 101.5,133.8 104.8,129.9 108.0,125.6 111.3,122.9 114.5,119.4 117.8,115.0 121.1,109.8 124.3,103.0 127.6,98.4 130.8,93.9 134.1,90.3 137.4,87.9 140.6,78.2 143.9,68.5 147.1,63.3 150.4,58.3 153.7,54.7 156.9,46.8 160.2,38.3 163.4,35.0 166.7,31.0 170.0,22.8 173.2,15.4 176.5,26.0 179.7,12.7 183.0,13.2 186.3,27.2 189.5,16.2 192.8,23.4 196.0,28.3 199.3,35.9 202.6,34.4 205.8,45.7 209.1,54.2 212.3,62.2 215.6,72.4 218.9,80.2 222.1,92.9 225.4,102.6 228.6,108.6 231.9,113.1 235.2,121.8 238.4,132.6 241.7,139.0 244.9,139.6 248.2,139.2 251.5,144.9 254.7,149.1 258.0,154.1 261.2,155.8 264.5,157.4 267.8,162.3 271.0,165.5 274.3,167.2 277.5,170.2 280.8,171.1 284.1,173.2 287.3,174.9 290.6,175.6 293.8,176.9 297.1,178.2 300.4,179.0 303.6,179.6 306.9,179.8 310.1,181.1 313.4,182.0 316.7,182.8 319.9,183.5 323.2,184.8 326.4,185.5 329.7,186.6 333.0,187.7 336.2,188.3 339.5,189.3 342.7,190.9 346.0,191.5" fill="none" stroke="#ff0000" stroke-width="0.85" stroke-linejoin="round"/>
<g fill="#ff0000"><circle cx="20.0" cy="188.1" r="1.18"/><circle cx="23.3" cy="186.5" r="1.18"/><circle cx="26.5" cy="186.0" r="1.18"/><circle cx="29.8" cy="181.5" r="1.18"/><circle cx="33.0" cy="181.3" r="1.18"/><circle cx="36.3" cy="181.0" r="1.18"/><circle cx="39.6" cy="178.8" r="1.18"/><circle cx="42.8" cy="174.8" r="1.18"/><circle cx="46.1" cy="175.0" r="1.18"/><circle cx="49.3" cy="174.6" r="1.18"/><circle cx="52.6" cy="167.8" r="1.18"/><circle cx="55.9" cy="174.6" r="1.18"/><circle cx="59.1" cy="169.6" r="1.18"/><circle cx="62.4" cy="168.0" r="1.18"/><circle cx="65.6" cy="163.5" r="1.18"/><circle cx="68.9" cy="158.9" r="1.18"/><circle cx="72.2" cy="157.8" r="1.18"/><circle cx="75.4" cy="155.2" r="1.18"/><circle cx="78.7" cy="152.4" r="1.18"/><circle cx="81.9" cy="148.7" r="1.18"/><circle cx="85.2" cy="146.1" r="1.18"/><circle cx="88.5" cy="143.4" r="1.18"/><circle cx="91.7" cy="141.2" r="1.18"/><circle cx="95.0" cy="138.4" r="1.18"/><circle cx="98.2" cy="135.7" r="1.18"/><circle cx="101.5" cy="133.8" r="1.18"/><circle cx="104.8" cy="129.9" r="1.18"/><circle cx="108.0" cy="125.6" r="1.18"/><circle cx="111.3" cy="122.9" r="1.18"/><circle cx="114.5" cy="119.4" r="1.18"/><circle cx="117.8" cy="115.0" r="1.18"/><circle cx="121.1" cy="109.8" r="1.18"/><circle cx="124.3" cy="103.0" r="1.18"/><circle cx="127.6" cy="98.4" r="1.18"/><circle cx="130.8" cy="93.9" r="1.18"/><circle cx="134.1" cy="90.3" r="1.18"/><circle cx="137.4" cy="87.9" r="1.18"/><circle cx="140.6" cy="78.2" r="1.18"/><circle cx="143.9" cy="68.5" r="1.18"/><circle cx="147.1" cy="63.3" r="1.18"/><circle cx="150.4" cy="58.3" r="1.18"/><circle cx="153.7" cy="54.7" r="1.18"/><circle cx="156.9" cy="46.8" r="1.18"/><circle cx="160.2" cy="38.3" r="1.18"/><circle cx="163.4" cy="35.0" r="1.18"/><circle cx="166.7" cy="31.0" r="1.18"/><circle cx="170.0" cy="22.8" r="1.18"/><circle cx="173.2" cy="15.4" r="1.18"/><circle cx="176.5" cy="26.0" r="1.18"/><circle cx="179.7" cy="12.7" r="1.18"/><circle cx="183.0" cy="13.2" r="1.18"/><circle cx="186.3" cy="27.2" r="1.18"/><circle cx="189.5" cy="16.2" r="1.18"/><circle cx="192.8" cy="23.4" r="1.18"/><circle cx="196.0" cy="28.3" r="1.18"/><circle cx="199.3" cy="35.9" r="1.18"/><circle cx="202.6" cy="34.4" r="1.18"/><circle cx="205.8" cy="45.7" r="1.18"/><circle cx="209.1" cy="54.2" r="1.18"/><circle cx="212.3" cy="62.2" r="1.18"/><circle cx="215.6" cy="72.4" r="1.18"/><circle cx="218.9" cy="80.2" r="1.18"/><circle cx="222.1" cy="92.9" r="1.18"/><circle cx="225.4" cy="102.6" r="1.18"/><circle cx="228.6" cy="108.6" r="1.18"/><circle cx="231.9" cy="113.1" r="1.18"/><circle cx="235.2" cy="121.8" r="1.18"/><circle cx="238.4" cy="132.6" r="1.18"/><circle cx="241.7" cy="139.0" r="1.18"/><circle cx="244.9" cy="139.6" r="1.18"/><circle cx="248.2" cy="139.2" r="1.18"/><circle cx="251.5" cy="144.9" r="1.18"/><circle cx="254.7" cy="149.1" r="1.18"/><circle cx="258.0" cy="154.1" r="1.18"/><circle cx="261.2" cy="155.8" r="1.18"/><circle cx="264.5" cy="157.4" r="1.18"/><circle cx="267.8" cy="162.3" r="1.18"/><circle cx="271.0" cy="165.5" r="1.18"/><circle cx="274.3" cy="167.2" r="1.18"/><circle cx="277.5" cy="170.2" r="1.18"/><circle cx="280.8" cy="171.1" r="1.18"/><circle cx="284.1" cy="173.2" r="1.18"/><circle cx="287.3" cy="174.9" r="1.18"/><circle cx="290.6" cy="175.6" r="1.18"/><circle cx="293.8" cy="176.9" r="1.18"/><circle cx="297.1" cy="178.2" r="1.18"/><circle cx="300.4" cy="179.0" r="1.18"/><circle cx="303.6" cy="179.6" r="1.18"/><circle cx="306.9" cy="179.8" r="1.18"/><circle cx="310.1" cy="181.1" r="1.18"/><circle cx="313.4" cy="182.0" r="1.18"/><circle cx="316.7" cy="182.8" r="1.18"/><circle cx="319.9" cy="183.5" r="1.18"/><circle cx="323.2" cy="184.8" r="1.18"/><circle cx="326.4" cy="185.5" r="1.18"/><circle cx="329.7" cy="186.6" r="1.18"/><circle cx="333.0" cy="187.7" r="1.18"/><circle cx="336.2" cy="188.3" r="1.18"/><circle cx="339.5" cy="189.3" r="1.18"/><circle cx="342.7" cy="190.9" r="1.18"/><circle cx="346.0" cy="191.5" r="1.18"/></g>
</g>
<path d="M20 0.5H347" stroke="#909090" stroke-width="1.4" fill="none"/><path d="M346.5 0V210.5" stroke="#6c6c6c" stroke-width="1" fill="none"/>
<path d="M20 0V210.7" stroke="#888888" stroke-width="1.3" fill="none"/><path d="M19.3 210.7H346.9" stroke="#727272" stroke-width="1.1" fill="none"/>
<path d="M19.6 53.2H23.6M346.6 53.2H342.8M19.6 105.7H23.6M346.6 105.7H342.8M19.6 158.2H23.6M346.6 158.2H342.8" stroke="#404040" stroke-width="0.7" fill="none"/>
<path d="M101.5 210.5V206.8M101.5 0.5V4.3M183 210.5V206.8M183 0.5V4.3M264.5 210.5V206.8M264.5 0.5V4.3" stroke="#404040" stroke-width="1" fill="none"/>
<text x="19.5" y="224.6" font-size="10.4" text-anchor="middle">50</text>
<text x="101" y="224.6" font-size="10.4" text-anchor="middle">55</text>
<text x="182.5" y="224.6" font-size="10.4" text-anchor="middle">60</text>
<text x="264" y="224.6" font-size="10.4" text-anchor="middle">65</text>
<text x="345.6" y="224.6" font-size="10.4" text-anchor="middle">70</text>
<text x="174.9" y="238.3" font-size="10.4" text-anchor="middle">Frequency [Hz]</text>
<text transform="translate(8.6 118.5) rotate(-90)" font-size="10.4" text-anchor="middle">Power density [a.u.]</text>
<rect x="231.6" y="12.5" width="103" height="86.6" fill="#fff" stroke="#383838" stroke-width="0.8"/>
<path d="M238.8 20.5H273" stroke="#ff00ff" stroke-width="0.7" fill="none" stroke-dasharray="0.9 2.55"/>
<circle cx="255.9" cy="20.5" r="1.3" fill="#ff00ff"/>
<text x="276.6" y="23.7" font-size="9.2">1 MΩ</text>
<path d="M238.8 32.4H273" stroke="#ff00ff" stroke-width="0.7" fill="none" stroke-dasharray="0.9 2.55"/>
<circle cx="255.9" cy="32.4" r="1.3" fill="#ff00ff"/>
<text x="276.6" y="35.6" font-size="9.2">1 MΩ</text>
<path d="M238.8 44.2H273" stroke="#ff0000" stroke-width="0.7" fill="none"/>
<circle cx="255.9" cy="44.2" r="1.3" fill="#ff0000"/>
<text x="276.6" y="47.4" font-size="9.2">Open Circuit</text>
<path d="M238.8 56.0H273" stroke="#0000ff" stroke-width="0.7" fill="none" stroke-dasharray="8.5 5"/>
<circle cx="255.9" cy="56.0" r="1.3" fill="#0000ff"/>
<text x="276.6" y="59.2" font-size="9.2">Short Circuit</text>
<path d="M238.8 67.9H273" stroke="#0000ff" stroke-width="0.7" fill="none" stroke-dasharray="8.5 5"/>
<circle cx="255.9" cy="67.9" r="1.3" fill="#0000ff"/>
<text x="276.6" y="71.1" font-size="9.2">Short Circuit</text>
<path d="M238.8 79.8H273" stroke="#0000ff" stroke-width="0.7" fill="none" stroke-dasharray="8.5 5"/>
<circle cx="255.9" cy="79.8" r="1.3" fill="#0000ff"/>
<text x="276.6" y="83.0" font-size="9.2">Short Circuit</text>
<path d="M238.8 91.6H273" stroke="#ff0000" stroke-width="0.7" fill="none"/>
<circle cx="255.9" cy="91.6" r="1.3" fill="#ff0000"/>
<text x="276.6" y="94.8" font-size="9.2">Open Circuit</text>
</svg></body></html>
